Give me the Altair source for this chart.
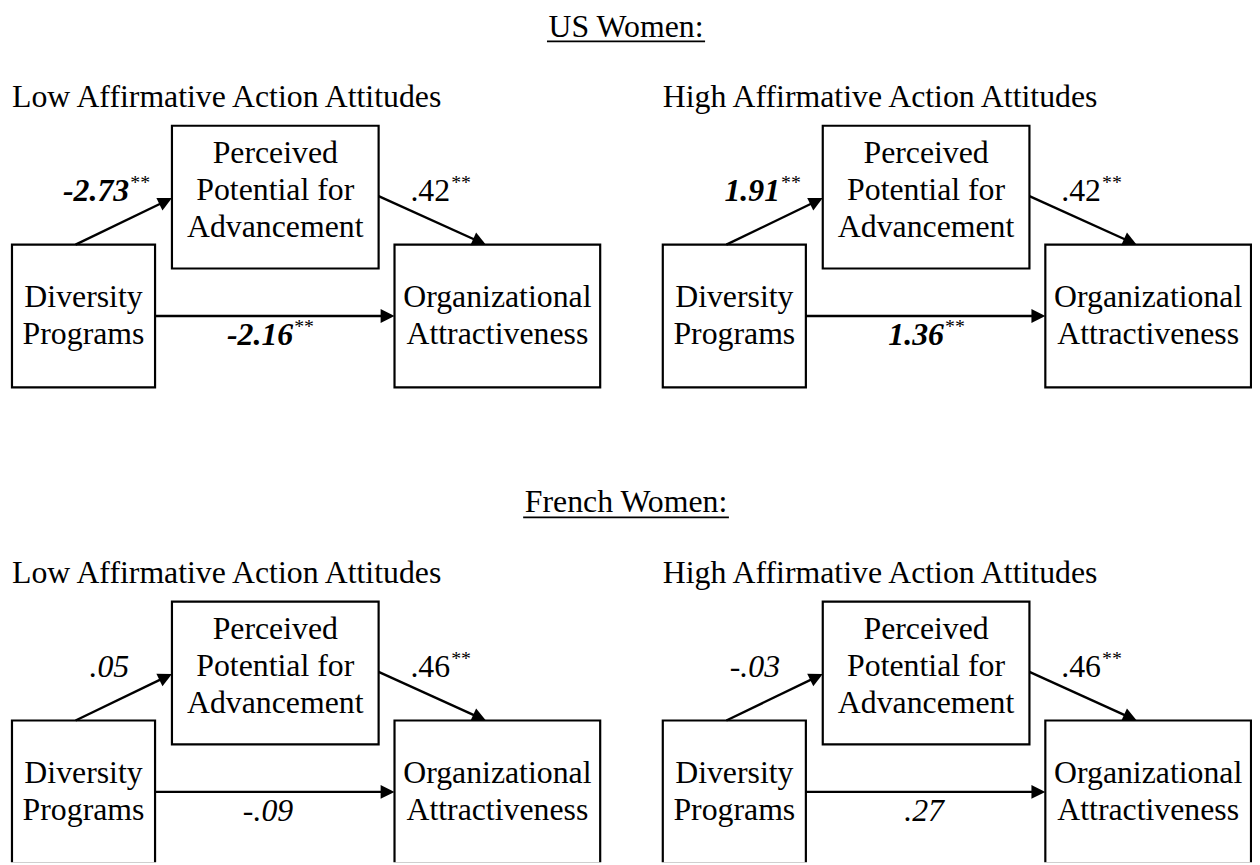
import math
import altair as alt
import pandas as pd

# ---------------- data ----------------
group_titles = ["US Women:", "French Women:"]
condition_titles = ["Low Affirmative Action Attitudes", "High Affirmative Action Attitudes"]
node_dp = ["Diversity", "Programs"]
node_ppa = ["Perceived", "Potential for", "Advancement"]
node_oa = ["Organizational", "Attractiveness"]

# panel order: US-Low, US-High, French-Low, French-High
coef_dp_ppa = [-2.73, 1.91, 0.05, -0.03]
coef_ppa_oa = [0.42, 0.42, 0.46, 0.46]
coef_dp_oa = [-2.16, 1.36, -0.09, 0.27]
sig_dp_ppa = ["**", "**", "", ""]
sig_ppa_oa = ["**", "**", "**", "**"]
sig_dp_oa = ["**", "**", "", ""]
style_dp_ppa = ["bolditalic", "bolditalic", "italic", "italic"]
style_ppa_oa = ["normal", "normal", "normal", "normal"]
style_dp_oa = ["bolditalic", "bolditalic", "italic", "italic"]

# ---------------- layout (page pixels) ----------------
FONT = "'Times New Roman', 'Liberation Serif', serif"
FS = 32
SUP_FS = 20
LINE_H = 37
panel_dx = [0, 655, 0, 655]
panel_dy = [0, 0, 480, 480]
panel_cond = [0, 1, 0, 1]
group_baseline = [32, 512]
page_center = 630

box_dp = (12, 242, 156, 386)
box_ppa = (173, 122, 381, 266)
box_oa = (397, 242, 604, 386)
title_pos = (12, 103)
text_dp = (84, 305)
text_ppa = (277, 160)
text_oa = (500.5, 305)
arrow_dp_ppa = ((76, 242), (173, 195))
arrow_ppa_oa = ((381, 193), (489, 242))
arrow_dp_oa = ((156, 314), (397, 314))
lab_dp_ppa = (130, 198)
lab_ppa_oa = (453, 198)
lab_dp_oa = (295, 343)

times_w = {'U': 722, 'S': 556, ' ': 250, 'W': 944, 'o': 500, 'm': 778, 'e': 444,
           'n': 500, ':': 278, 'F': 556, 'r': 333, 'c': 444, 'h': 500}


def fmt(v):
    s = f"{v:.2f}"
    if s.startswith("0."):
        s = s[1:]
    elif s.startswith("-0."):
        s = "-" + s[2:]
    return s


boxes, lines, heads = [], [], []
txt = {"normal": [], "italic": [], "bolditalic": []}
sups = []
underl = []

for gi, g in enumerate(group_titles):
    txt["normal"].append({"x": page_center, "y": group_baseline[gi], "t": g, "a": "center"})
    w = sum(times_w.get(c, 500) for c in g) * FS / 1000
    underl.append({"x": page_center - w / 2, "x2": page_center + w / 2,
                   "y": group_baseline[gi] + 5, "y2": group_baseline[gi] + 5})

for p in range(4):
    dx, dy = panel_dx[p], panel_dy[p]
    txt["normal"].append({"x": title_pos[0] + dx, "y": title_pos[1] + dy,
                          "t": condition_titles[panel_cond[p]], "a": "left"})
    for b in (box_dp, box_ppa, box_oa):
        boxes.append({"x": b[0] + dx, "y": b[1] + dy, "x2": b[2] + dx, "y2": b[3] + dy})
    for (cx, by), lab in ((text_dp, node_dp), (text_ppa, node_ppa), (text_oa, node_oa)):
        for i, line in enumerate(lab):
            txt["normal"].append({"x": cx + dx, "y": by + i * LINE_H + dy, "t": line, "a": "center"})
    for (s, e) in (arrow_dp_ppa, arrow_ppa_oa, arrow_dp_oa):
        sx, sy = s[0] + dx, s[1] + dy
        ex, ey = e[0] + dx, e[1] + dy
        L = math.hypot(ex - sx, ey - sy)
        ux, uy = (ex - sx) / L, (ey - sy) / L
        lines.append({"x": sx, "y": sy, "x2": ex - 9 * ux, "y2": ey - 9 * uy})
        heads.append({"x": ex, "y": ey, "angle": math.degrees(math.atan2(uy, ux)) % 360})
    for pos, coefs, sigs, styles in ((lab_dp_ppa, coef_dp_ppa, sig_dp_ppa, style_dp_ppa),
                                     (lab_ppa_oa, coef_ppa_oa, sig_ppa_oa, style_ppa_oa),
                                     (lab_dp_oa, coef_dp_oa, sig_dp_oa, style_dp_oa)):
        txt[styles[p]].append({"x": pos[0] + dx, "y": pos[1] + dy, "t": fmt(coefs[p]), "a": "right"})
        if sigs[p]:
            sups.append({"x": pos[0] + dx + 1, "y": pos[1] + dy - 12, "t": sigs[p]})

X = alt.Scale(domain=[8, 1260], nice=False, zero=False)
Y = alt.Scale(domain=[8, 865], nice=False, zero=False, reverse=True)


def xenc():
    return alt.X("x:Q", scale=X, axis=None)


def yenc():
    return alt.Y("y:Q", scale=Y, axis=None)


box_layer = alt.Chart(pd.DataFrame(boxes)).mark_rect(
    fillOpacity=0, stroke="black", strokeWidth=2.2, clip=True
).encode(x=xenc(), y=yenc(), x2="x2:Q", y2="y2:Q")

line_layer = alt.Chart(pd.DataFrame(lines)).mark_rule(
    color="black", strokeWidth=2.4
).encode(x=xenc(), y=yenc(), x2="x2:Q", y2="y2:Q")

ul_layer = alt.Chart(pd.DataFrame(underl)).mark_rule(
    color="black", strokeWidth=1.8
).encode(x=xenc(), y=yenc(), x2="x2:Q", y2="y2:Q")

head_layer = alt.Chart(pd.DataFrame(heads)).mark_point(
    shape="M0,0 L-1,-0.5 L-1,0.5 Z", size=784, filled=True, color="black", opacity=1
).encode(x=xenc(), y=yenc(), angle=alt.Angle("angle:Q", scale=None))

layers = [box_layer, line_layer, ul_layer, head_layer]

style_props = {"normal": {}, "italic": {"fontStyle": "italic"},
               "bolditalic": {"fontStyle": "italic", "fontWeight": "bold"}}
for st, rows in txt.items():
    if not rows:
        continue
    df = pd.DataFrame(rows)
    for a in df["a"].unique():
        sub = df[df["a"] == a]
        layers.append(alt.Chart(sub).mark_text(
            align=a, baseline="alphabetic", font=FONT, fontSize=FS, color="black",
            **style_props[st]
        ).encode(x=xenc(), y=yenc(), text="t:N"))

layers.append(alt.Chart(pd.DataFrame(sups)).mark_text(
    align="left", baseline="alphabetic", font=FONT, fontSize=SUP_FS, color="black"
).encode(x=xenc(), y=yenc(), text="t:N"))

chart = alt.layer(*layers).properties(
    width=1252, height=857, padding=0,
    autosize=alt.AutoSizeParams(type="fit", contains="padding"),
    background="white",
).configure_view(strokeWidth=0)

chart.save("out.html", embed_options={"renderer": "svg", "actions": False})
